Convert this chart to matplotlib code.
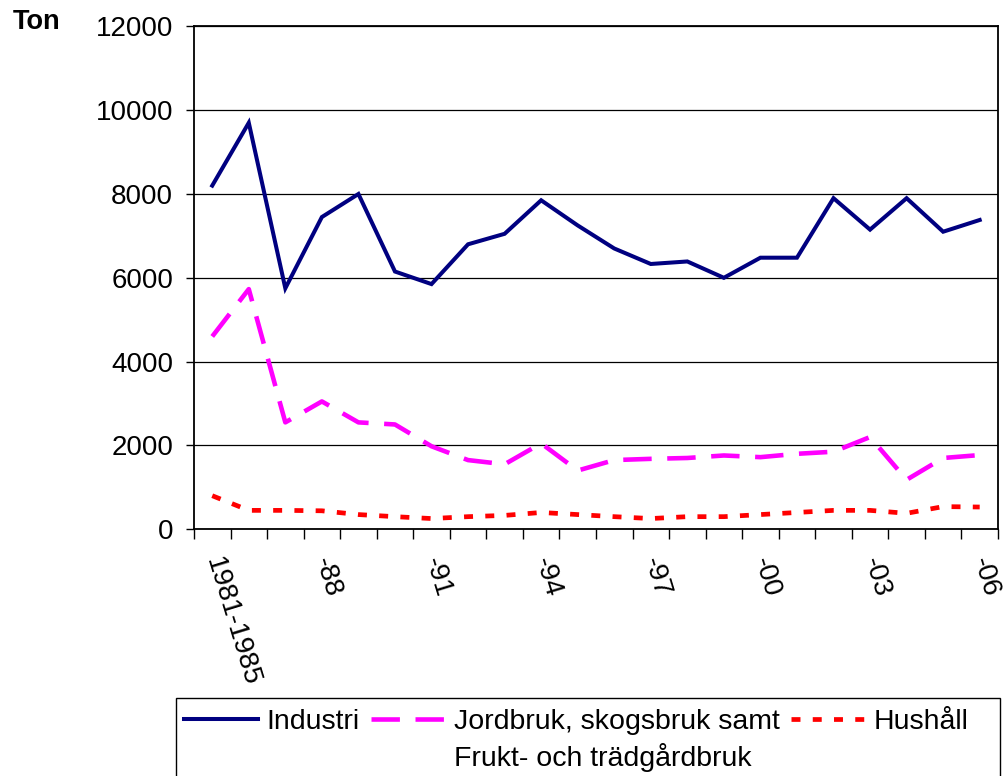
import matplotlib
matplotlib.use('Agg')
import matplotlib.pyplot as plt
from matplotlib.patches import Rectangle
import numpy as np

plt.rcParams['font.family'] = ['Liberation Sans', 'DejaVu Sans']

years = ['1981-1985', '-86', '-87', '-88', '-89', '-90', '-91', '-92', '-93', '-94', '-95',
         '-96', '-97', '-98', '-99', '-00', '-01', '-02', '-03', '-04', '-05', '-06']
shown_labels = ['1981-1985', '-88', '-91', '-94', '-97', '-00', '-03', '-06']

industri = [8200, 9700, 5750, 7450, 8000, 6150, 5850, 6800, 7050, 7850, 7250,
            6700, 6330, 6390, 6000, 6480, 6480, 7900, 7150, 7900, 7100, 7380]
jordbruk = [4600, 5730, 2550, 3050, 2550, 2500, 1980, 1650, 1550, 2050, 1400,
            1650, 1680, 1700, 1760, 1720, 1800, 1850, 2200, 1180, 1700, 1770]
hushall = [800, 450, 450, 440, 350, 300, 255, 300, 330, 400, 350,
           300, 255, 300, 300, 350, 400, 450, 450, 380, 540, 530]

fig = plt.figure(figsize=(10.05, 7.76), dpi=100)
ax = fig.add_axes([0.193, 0.318, 0.8, 0.648])

x = np.arange(len(years))
l1, = ax.plot(x, industri, color='#000080', lw=2.9, solid_joinstyle='miter')
l2, = ax.plot(x, jordbruk, color='#FF00FF', lw=3.3, dashes=(6.2, 3.4))
l3, = ax.plot(x, hushall, color='#FF0000', lw=3.4, dashes=(1.9, 2.6))

ax.set_xlim(-0.5, len(years) - 0.5)
ax.set_ylim(0, 12000)
ax.set_yticks(np.arange(0, 12001, 2000))
ax.yaxis.grid(True, color='black', lw=0.9)
ax.set_axisbelow(True)

labels = [y if y in shown_labels else '' for y in years]
ax.set_xticks(x)
ax.set_xticklabels(labels, rotation=-73, ha='left', va='center', rotation_mode='anchor')
ax.set_xticks(np.arange(-0.5, len(years)), minor=True)
ax.tick_params(axis='x', which='major', length=0, pad=21, labelsize=20)
ax.tick_params(axis='x', which='minor', length=7, width=1, direction='out')
ax.tick_params(axis='y', length=6, width=1, labelsize=20, pad=9)
for s in ax.spines.values():
    s.set_linewidth(1.3)
    s.set_color('black')

fig.text(0.013, 0.972, 'Ton', fontsize=19.5, fontweight='bold', ha='left', va='center')

# legend box
fig.patches.append(Rectangle((0.175, -0.02), 0.82, 0.12, transform=fig.transFigure,
                             fill=False, edgecolor='black', lw=1.0))
leg = fig.legend([l1, l2, l3], ['Industri', 'Jordbruk, skogsbruk samt', 'Hushåll'],
                 loc='center left', bbox_to_anchor=(0.183, 0.069), ncol=3, frameon=False,
                 fontsize=20.5, handlelength=2.6, handletextpad=0.3, columnspacing=0.4,
                 borderpad=0, borderaxespad=0)

fig.canvas.draw()
bb = leg.get_texts()[1].get_window_extent().transformed(fig.transFigure.inverted())
fig.text(bb.x0, bb.y0 - 0.010, 'Frukt- och trädgårdbruk', fontsize=20.5, ha='left', va='top')

fig.savefig('out.png', dpi=100)
